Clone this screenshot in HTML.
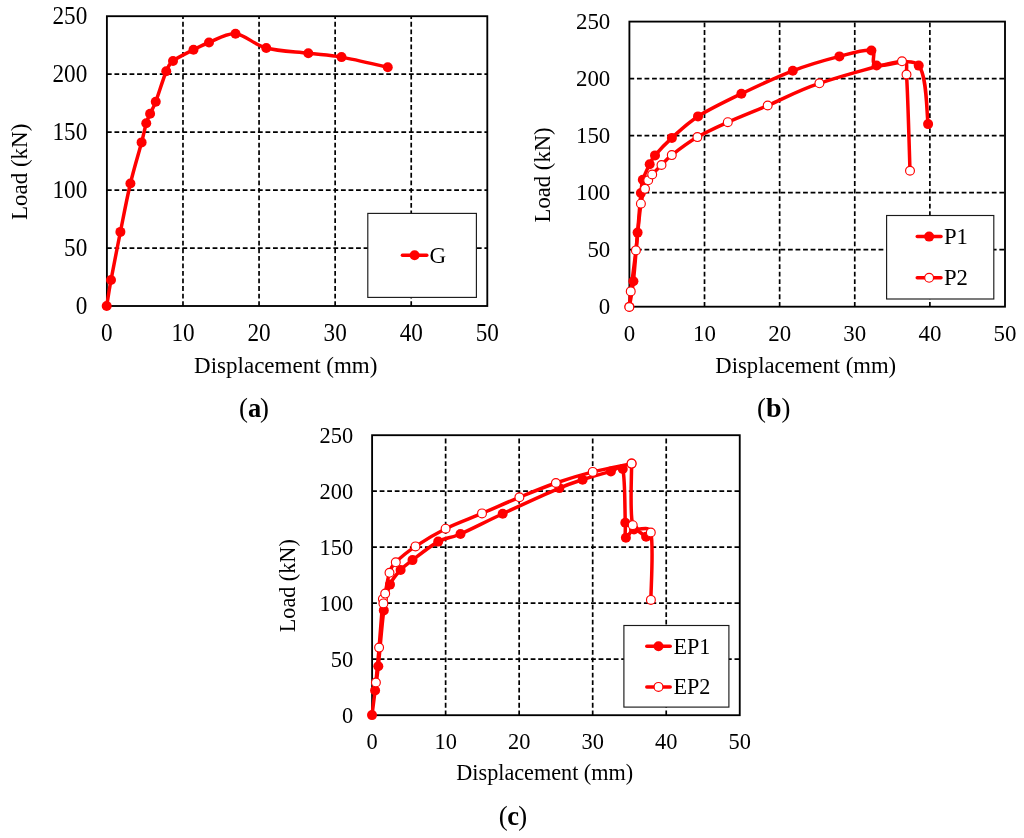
<!DOCTYPE html>
<html><head><meta charset="utf-8"><title>Load-displacement curves</title>
<style>
html,body{margin:0;padding:0;background:#fff;}
svg{display:block;}
svg text{font-family:"Liberation Serif","Times New Roman",serif;fill:#000;}
</style></head>
<body>
<svg width="1024" height="838" viewBox="0 0 1024 838">
<rect width="1024" height="838" fill="#fff"/>
<g stroke="#000" stroke-width="1.70" stroke-dasharray="4.8 2.75" fill="none"><line x1="106.90" y1="248.04" x2="487.30" y2="248.04"/><line x1="106.90" y1="190.08" x2="487.30" y2="190.08"/><line x1="106.90" y1="132.12" x2="487.30" y2="132.12"/><line x1="106.90" y1="74.16" x2="487.30" y2="74.16"/><line x1="182.98" y1="306.00" x2="182.98" y2="16.20"/><line x1="259.06" y1="306.00" x2="259.06" y2="16.20"/><line x1="335.14" y1="306.00" x2="335.14" y2="16.20"/><line x1="411.22" y1="306.00" x2="411.22" y2="16.20"/></g>
<rect x="106.90" y="16.20" width="380.40" height="289.80" fill="none" stroke="#000" stroke-width="1.85"/>
<path d="M106.70 306.00 C107.42 301.67 108.72 292.35 111.00 280.00 C113.28 267.65 117.17 247.98 120.40 231.90 C123.63 215.82 126.87 198.42 130.40 183.50 C133.93 168.58 138.96 152.44 141.60 142.40 C144.11 132.87 144.83 128.02 146.25 123.25 C147.67 118.48 148.52 117.38 150.10 113.80 C151.68 110.22 153.39 107.97 155.75 101.75 C158.44 94.66 163.38 78.04 166.25 71.25 C168.64 65.60 168.46 64.58 173.00 61.00 C177.54 57.42 187.50 52.83 193.50 49.75 C199.50 46.67 202.00 45.17 209.00 42.50 C216.00 39.83 225.96 32.83 235.50 33.75 C245.04 34.67 254.12 44.75 266.25 48.00 C278.38 51.25 295.76 51.73 308.30 53.25 C320.84 54.77 328.26 54.77 341.50 57.10 C354.74 59.43 380.04 65.56 387.75 67.25" fill="none" stroke="#ff0000" stroke-width="3.50" stroke-linejoin="round" stroke-linecap="round"/>
<g fill="#ff0000"><circle cx="106.70" cy="306.00" r="5.0"/><circle cx="111.00" cy="280.00" r="5.0"/><circle cx="120.40" cy="231.90" r="5.0"/><circle cx="130.40" cy="183.50" r="5.0"/><circle cx="141.60" cy="142.40" r="5.0"/><circle cx="146.25" cy="123.25" r="5.0"/><circle cx="150.10" cy="113.80" r="5.0"/><circle cx="155.75" cy="101.75" r="5.0"/><circle cx="166.25" cy="71.25" r="5.0"/><circle cx="173.00" cy="61.00" r="5.0"/><circle cx="193.50" cy="49.75" r="5.0"/><circle cx="209.00" cy="42.50" r="5.0"/><circle cx="235.50" cy="33.75" r="5.0"/><circle cx="266.25" cy="48.00" r="5.0"/><circle cx="308.30" cy="53.25" r="5.0"/><circle cx="341.50" cy="57.10" r="5.0"/><circle cx="387.75" cy="67.25" r="5.0"/></g>
<rect x="367.80" y="213.40" width="108.60" height="84.00" fill="#fff" stroke="#1a1a1a" stroke-width="1.15"/>
<line x1="402.40" y1="255.30" x2="426.80" y2="255.30" stroke="#ff0000" stroke-width="3.50" stroke-linecap="round"/>
<circle cx="414.60" cy="255.30" r="5.0" fill="#ff0000"/>
<text x="429.60" y="262.60" font-size="23.00">G</text>
<text transform="translate(87.30 313.75) scale(1 1.05)" font-size="23.20" text-anchor="end">0</text>
<text transform="translate(87.30 255.79) scale(1 1.05)" font-size="23.20" text-anchor="end">50</text>
<text transform="translate(87.30 197.83) scale(1 1.05)" font-size="23.20" text-anchor="end">100</text>
<text transform="translate(87.30 139.87) scale(1 1.05)" font-size="23.20" text-anchor="end">150</text>
<text transform="translate(87.30 81.91) scale(1 1.05)" font-size="23.20" text-anchor="end">200</text>
<text transform="translate(87.30 23.95) scale(1 1.05)" font-size="23.20" text-anchor="end">250</text>
<text transform="translate(106.90 340.60) scale(1 1.05)" font-size="23.20" text-anchor="middle">0</text>
<text transform="translate(182.98 340.60) scale(1 1.05)" font-size="23.20" text-anchor="middle">10</text>
<text transform="translate(259.06 340.60) scale(1 1.05)" font-size="23.20" text-anchor="middle">20</text>
<text transform="translate(335.14 340.60) scale(1 1.05)" font-size="23.20" text-anchor="middle">30</text>
<text transform="translate(411.22 340.60) scale(1 1.05)" font-size="23.20" text-anchor="middle">40</text>
<text transform="translate(487.30 340.60) scale(1 1.05)" font-size="23.20" text-anchor="middle">50</text>
<text x="285.75" y="372.80" font-size="23.00" text-anchor="middle">Displacement (mm)</text>
<text transform="translate(27.00 171.90) rotate(-90)" font-size="23.00" text-anchor="middle">Load (kN)</text>
<g stroke="#000" stroke-width="1.70" stroke-dasharray="4.8 2.75" fill="none"><line x1="629.40" y1="249.68" x2="1005.00" y2="249.68"/><line x1="629.40" y1="192.66" x2="1005.00" y2="192.66"/><line x1="629.40" y1="135.64" x2="1005.00" y2="135.64"/><line x1="629.40" y1="78.62" x2="1005.00" y2="78.62"/><line x1="704.52" y1="306.70" x2="704.52" y2="21.60"/><line x1="779.64" y1="306.70" x2="779.64" y2="21.60"/><line x1="854.76" y1="306.70" x2="854.76" y2="21.60"/><line x1="929.88" y1="306.70" x2="929.88" y2="21.60"/></g>
<rect x="629.40" y="21.60" width="375.60" height="285.10" fill="none" stroke="#000" stroke-width="1.85"/>
<path d="M629.40 306.70 C630.07 302.45 632.03 293.55 633.40 281.20 C634.77 268.85 636.35 247.30 637.60 232.60 C638.85 217.90 640.03 201.80 640.90 193.00 C641.55 186.36 641.33 184.60 642.80 179.80 C644.27 175.00 647.67 168.27 649.70 164.20 C651.73 160.13 651.69 159.33 655.00 155.40 C658.70 151.02 664.73 144.40 671.90 137.90 C679.07 131.40 686.42 123.76 698.00 116.40 C709.58 109.04 725.60 101.35 741.40 93.75 C757.20 86.15 776.47 77.02 792.80 70.80 C809.13 64.58 826.30 59.78 839.40 56.40 C852.50 53.02 865.20 48.98 871.40 50.50 C877.60 52.02 869.04 63.09 876.60 65.50 C884.48 68.02 910.12 55.83 918.70 65.60 C927.28 75.37 926.53 114.35 928.10 124.10" fill="none" stroke="#ff0000" stroke-width="3.50" stroke-linejoin="round" stroke-linecap="round"/>
<g fill="#ff0000"><circle cx="629.40" cy="306.70" r="5.0"/><circle cx="633.40" cy="281.20" r="5.0"/><circle cx="637.60" cy="232.60" r="5.0"/><circle cx="640.90" cy="193.00" r="5.0"/><circle cx="642.80" cy="179.80" r="5.0"/><circle cx="649.70" cy="164.20" r="5.0"/><circle cx="655.00" cy="155.40" r="5.0"/><circle cx="671.90" cy="137.90" r="5.0"/><circle cx="698.00" cy="116.40" r="5.0"/><circle cx="741.40" cy="93.75" r="5.0"/><circle cx="792.80" cy="70.80" r="5.0"/><circle cx="839.40" cy="56.40" r="5.0"/><circle cx="871.40" cy="50.50" r="5.0"/><circle cx="876.60" cy="65.50" r="5.0"/><circle cx="918.70" cy="65.60" r="5.0"/><circle cx="928.10" cy="124.10" r="5.0"/></g>
<path d="M629.30 307.00 C629.54 304.40 629.84 299.18 630.75 291.40 C631.85 281.97 634.21 265.02 635.90 250.40 C637.59 235.78 639.38 213.97 640.90 203.70 C642.03 196.06 643.78 192.70 645.00 188.80 C646.22 184.90 647.00 182.68 648.20 180.30 C649.40 177.92 649.98 177.05 652.20 174.50 C654.42 171.95 658.23 168.23 661.50 165.00 C664.77 161.77 666.16 159.48 671.80 155.10 C677.78 150.45 688.07 142.58 697.40 137.10 C706.73 131.62 716.08 127.47 727.80 122.20 C739.52 116.93 752.43 111.98 767.70 105.50 C782.97 99.02 797.02 90.67 819.40 83.30 C841.78 75.93 887.48 62.77 902.00 61.30 C908.94 60.60 905.99 67.55 906.50 74.50 C907.83 92.74 909.42 154.71 910.00 170.75" fill="none" stroke="#ff0000" stroke-width="3.50" stroke-linejoin="round" stroke-linecap="round"/>
<g fill="#fff" stroke="#ff0000" stroke-width="1.15"><circle cx="629.30" cy="307.00" r="4.42"/><circle cx="630.75" cy="291.40" r="4.42"/><circle cx="635.90" cy="250.40" r="4.42"/><circle cx="640.90" cy="203.70" r="4.42"/><circle cx="645.00" cy="188.80" r="4.42"/><circle cx="648.20" cy="180.30" r="4.42"/><circle cx="652.20" cy="174.50" r="4.42"/><circle cx="661.50" cy="165.00" r="4.42"/><circle cx="671.80" cy="155.10" r="4.42"/><circle cx="697.40" cy="137.10" r="4.42"/><circle cx="727.80" cy="122.20" r="4.42"/><circle cx="767.70" cy="105.50" r="4.42"/><circle cx="819.40" cy="83.30" r="4.42"/><circle cx="902.00" cy="61.30" r="4.42"/><circle cx="906.50" cy="74.50" r="4.42"/><circle cx="910.00" cy="170.75" r="4.42"/></g>
<rect x="886.60" y="215.50" width="107.20" height="83.50" fill="#fff" stroke="#1a1a1a" stroke-width="1.15"/>
<line x1="917.25" y1="236.60" x2="941.00" y2="236.60" stroke="#ff0000" stroke-width="3.50" stroke-linecap="round"/>
<circle cx="929.12" cy="236.60" r="5.0" fill="#ff0000"/>
<text x="943.90" y="243.90" font-size="22.70">P1</text>
<line x1="917.25" y1="277.80" x2="941.00" y2="277.80" stroke="#ff0000" stroke-width="3.50" stroke-linecap="round"/>
<circle cx="929.12" cy="277.80" r="4.42" fill="#fff" stroke="#ff0000" stroke-width="1.15"/>
<text x="943.90" y="285.30" font-size="22.70">P2</text>
<text transform="translate(610.30 314.45) scale(1 1.05)" font-size="22.90" text-anchor="end">0</text>
<text transform="translate(610.30 257.43) scale(1 1.05)" font-size="22.90" text-anchor="end">50</text>
<text transform="translate(610.30 200.41) scale(1 1.05)" font-size="22.90" text-anchor="end">100</text>
<text transform="translate(610.30 143.39) scale(1 1.05)" font-size="22.90" text-anchor="end">150</text>
<text transform="translate(610.30 86.37) scale(1 1.05)" font-size="22.90" text-anchor="end">200</text>
<text transform="translate(610.30 29.35) scale(1 1.05)" font-size="22.90" text-anchor="end">250</text>
<text transform="translate(629.40 341.10) scale(1 1.05)" font-size="22.90" text-anchor="middle">0</text>
<text transform="translate(704.52 341.10) scale(1 1.05)" font-size="22.90" text-anchor="middle">10</text>
<text transform="translate(779.64 341.10) scale(1 1.05)" font-size="22.90" text-anchor="middle">20</text>
<text transform="translate(854.76 341.10) scale(1 1.05)" font-size="22.90" text-anchor="middle">30</text>
<text transform="translate(929.88 341.10) scale(1 1.05)" font-size="22.90" text-anchor="middle">40</text>
<text transform="translate(1005.00 341.10) scale(1 1.05)" font-size="22.90" text-anchor="middle">50</text>
<text x="805.75" y="373.30" font-size="22.70" text-anchor="middle">Displacement (mm)</text>
<text transform="translate(550.20 174.90) rotate(-90)" font-size="22.70" text-anchor="middle">Load (kN)</text>
<g stroke="#000" stroke-width="1.70" stroke-dasharray="4.8 2.75" fill="none"><line x1="372.10" y1="659.20" x2="739.75" y2="659.20"/><line x1="372.10" y1="603.20" x2="739.75" y2="603.20"/><line x1="372.10" y1="547.20" x2="739.75" y2="547.20"/><line x1="372.10" y1="491.20" x2="739.75" y2="491.20"/><line x1="445.63" y1="715.20" x2="445.63" y2="435.20"/><line x1="519.16" y1="715.20" x2="519.16" y2="435.20"/><line x1="592.69" y1="715.20" x2="592.69" y2="435.20"/><line x1="666.22" y1="715.20" x2="666.22" y2="435.20"/></g>
<rect x="372.10" y="435.20" width="367.65" height="280.00" fill="none" stroke="#000" stroke-width="1.85"/>
<path d="M372.00 715.10 C372.52 711.00 374.05 698.65 375.10 690.50 C376.15 682.35 376.98 678.38 378.30 666.20 C379.75 652.85 381.85 624.00 383.80 610.40 C385.68 597.27 387.20 591.33 390.00 584.60 C392.80 577.87 396.85 574.08 400.60 570.00 C404.35 565.92 406.32 564.76 412.50 560.10 C418.77 555.37 430.20 545.95 438.20 541.60 C446.20 537.25 449.75 538.64 460.50 534.00 C471.25 529.36 486.22 521.40 502.70 513.75 C519.18 506.10 546.08 493.78 559.40 488.10 C570.75 483.26 574.02 482.48 582.60 479.70 C591.18 476.92 604.21 473.17 610.90 471.40 C616.74 469.85 621.12 463.23 622.75 469.05 C625.15 477.60 624.77 511.26 625.30 522.70 C625.64 530.20 624.45 536.57 625.90 537.70 C627.35 538.83 630.63 529.65 634.00 529.50 C637.37 529.35 644.08 535.58 646.10 536.80" fill="none" stroke="#ff0000" stroke-width="3.50" stroke-linejoin="round" stroke-linecap="round"/>
<g fill="#ff0000"><circle cx="372.00" cy="715.10" r="5.0"/><circle cx="375.10" cy="690.50" r="5.0"/><circle cx="378.30" cy="666.20" r="5.0"/><circle cx="383.80" cy="610.40" r="5.0"/><circle cx="390.00" cy="584.60" r="5.0"/><circle cx="400.60" cy="570.00" r="5.0"/><circle cx="412.50" cy="560.10" r="5.0"/><circle cx="438.20" cy="541.60" r="5.0"/><circle cx="460.50" cy="534.00" r="5.0"/><circle cx="502.70" cy="513.75" r="5.0"/><circle cx="559.40" cy="488.10" r="5.0"/><circle cx="582.60" cy="479.70" r="5.0"/><circle cx="610.90" cy="471.40" r="5.0"/><circle cx="622.75" cy="469.05" r="5.0"/><circle cx="625.30" cy="522.70" r="5.0"/><circle cx="625.90" cy="537.70" r="5.0"/><circle cx="634.00" cy="529.50" r="5.0"/><circle cx="646.10" cy="536.80" r="5.0"/></g>
<path d="M375.90 682.50 C376.43 676.68 377.93 661.52 379.10 647.60 C380.27 633.68 382.18 606.37 382.90 599.00 C383.11 596.80 383.02 604.30 383.40 603.40 C383.78 602.50 384.23 598.49 385.20 593.60 C386.22 588.50 387.73 578.02 389.50 572.80 C391.27 567.58 391.50 566.66 395.80 562.30 C400.13 557.90 407.20 552.00 415.50 546.40 C423.80 540.80 434.52 534.20 445.60 528.70 C456.68 523.20 469.70 518.63 482.00 513.40 C494.30 508.17 507.08 502.37 519.40 497.30 C531.72 492.23 543.67 487.23 555.90 483.00 C568.12 478.77 580.13 475.13 592.75 471.90 C605.37 468.67 625.12 464.98 631.60 463.60 C631.60 463.60 631.60 463.60 631.60 463.60 C631.79 473.87 629.55 513.72 632.75 525.20 C635.36 534.58 648.50 523.04 650.80 532.50 C653.82 544.95 650.88 588.67 650.90 599.90" fill="none" stroke="#ff0000" stroke-width="3.50" stroke-linejoin="round" stroke-linecap="round"/>
<g fill="#fff" stroke="#ff0000" stroke-width="1.15"><circle cx="375.90" cy="682.50" r="4.42"/><circle cx="379.10" cy="647.60" r="4.42"/><circle cx="382.90" cy="599.00" r="4.42"/><circle cx="383.40" cy="603.40" r="4.42"/><circle cx="385.20" cy="593.60" r="4.42"/><circle cx="389.50" cy="572.80" r="4.42"/><circle cx="395.80" cy="562.30" r="4.42"/><circle cx="415.50" cy="546.40" r="4.42"/><circle cx="445.60" cy="528.70" r="4.42"/><circle cx="482.00" cy="513.40" r="4.42"/><circle cx="519.40" cy="497.30" r="4.42"/><circle cx="555.90" cy="483.00" r="4.42"/><circle cx="592.75" cy="471.90" r="4.42"/><circle cx="631.60" cy="463.60" r="4.42"/><circle cx="631.60" cy="463.60" r="4.42"/><circle cx="632.75" cy="525.20" r="4.42"/><circle cx="650.80" cy="532.50" r="4.42"/><circle cx="650.90" cy="599.90" r="4.42"/></g>
<rect x="623.90" y="625.50" width="105.00" height="81.60" fill="#fff" stroke="#1a1a1a" stroke-width="1.15"/>
<line x1="646.80" y1="646.20" x2="670.20" y2="646.20" stroke="#ff0000" stroke-width="3.50" stroke-linecap="round"/>
<circle cx="658.50" cy="646.20" r="5.0" fill="#ff0000"/>
<text x="673.40" y="653.60" font-size="22.20">EP1</text>
<line x1="646.80" y1="686.90" x2="670.20" y2="686.90" stroke="#ff0000" stroke-width="3.50" stroke-linecap="round"/>
<circle cx="658.50" cy="686.90" r="4.42" fill="#fff" stroke="#ff0000" stroke-width="1.15"/>
<text x="673.40" y="694.00" font-size="22.20">EP2</text>
<text transform="translate(353.10 722.95) scale(1 1.05)" font-size="22.40" text-anchor="end">0</text>
<text transform="translate(353.10 666.95) scale(1 1.05)" font-size="22.40" text-anchor="end">50</text>
<text transform="translate(353.10 610.95) scale(1 1.05)" font-size="22.40" text-anchor="end">100</text>
<text transform="translate(353.10 554.95) scale(1 1.05)" font-size="22.40" text-anchor="end">150</text>
<text transform="translate(353.10 498.95) scale(1 1.05)" font-size="22.40" text-anchor="end">200</text>
<text transform="translate(353.10 442.95) scale(1 1.05)" font-size="22.40" text-anchor="end">250</text>
<text transform="translate(372.10 748.60) scale(1 1.05)" font-size="22.40" text-anchor="middle">0</text>
<text transform="translate(445.63 748.60) scale(1 1.05)" font-size="22.40" text-anchor="middle">10</text>
<text transform="translate(519.16 748.60) scale(1 1.05)" font-size="22.40" text-anchor="middle">20</text>
<text transform="translate(592.69 748.60) scale(1 1.05)" font-size="22.40" text-anchor="middle">30</text>
<text transform="translate(666.22 748.60) scale(1 1.05)" font-size="22.40" text-anchor="middle">40</text>
<text transform="translate(739.75 748.60) scale(1 1.05)" font-size="22.40" text-anchor="middle">50</text>
<text x="544.75" y="780.10" font-size="22.20" text-anchor="middle">Displacement (mm)</text>
<text transform="translate(294.90 585.75) rotate(-90)" font-size="22.20" text-anchor="middle">Load (kN)</text>
<text x="239.00" y="417.07" font-size="26.8">(</text>
<text x="247.90" y="416.50" font-size="26.5" font-weight="bold">a</text>
<text x="259.97" y="417.07" font-size="26.8">)</text>
<text x="757.00" y="417.07" font-size="26.8">(</text>
<text x="765.90" y="416.60" font-size="28.0" font-weight="bold">b</text>
<text x="781.50" y="417.07" font-size="26.8">)</text>
<text x="498.70" y="824.50" font-size="26.8">(</text>
<text x="507.20" y="824.60" font-size="26.5" font-weight="bold">c</text>
<text x="518.30" y="824.50" font-size="26.8">)</text>
</svg>
</body></html>
